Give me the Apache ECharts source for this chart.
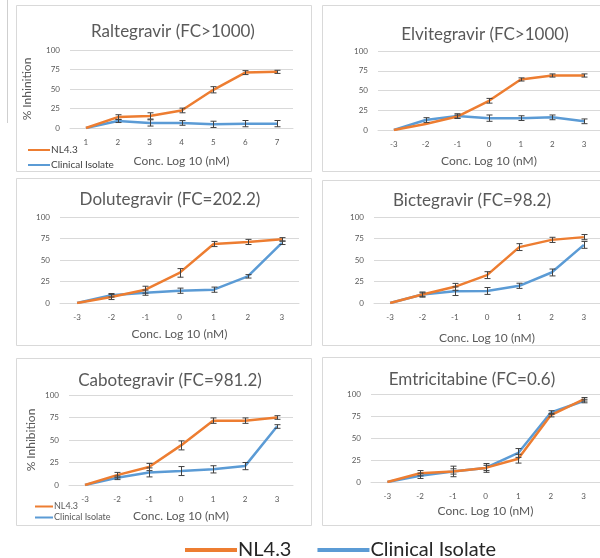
<!DOCTYPE html>
<html>
<head>
<meta charset="utf-8">
<script src="https://cdn.jsdelivr.net/npm/echarts@6/dist/echarts.min.js"></script>
<style>
  html, body { margin: 0; padding: 0; background: #fff; }
  #main { width: 600px; height: 558px; }
</style>
</head>
<body>
<div id="main"></div>
<script>
var xRalt = ['1', '2', '3', '4', '5', '6', '7'];
var xLog = ['-3', '-2', '-1', '0', '1', '2', '3'];

// % inhibition, NL4.3 and clinical isolate, with error (+/-)
var raltNL = [0, 14, 15.5, 22.5, 49, 71, 72];
var raltNLErr = [0, 3, 4, 3, 4, 2.5, 2];
var raltCI = [0, 9, 6.5, 6.5, 4.7, 5.6, 5.6];
var raltCIErr = [0, 2, 4, 3, 4, 4, 4];

var elviNL = [0, 7.6, 17, 37, 64, 69, 69];
var elviNLErr = [0, 0, 2, 3, 2, 2, 2];
var elviCI = [0, 12.6, 17.6, 15, 15, 16, 11];
var elviCIErr = [0, 3, 3, 4, 3, 3, 3];

var doluNL = [0, 7, 15.5, 35, 68.6, 71, 74];
var doluNLErr = [0, 3, 4, 5, 3, 3, 2];
var doluCI = [0, 9, 12, 14.3, 15.5, 31, 70];
var doluCIErr = [0, 2, 3, 3, 3, 2, 2];

var bictNL = [0, 9.8, 18.8, 32.4, 65, 73.4, 76.6];
var bictNLErr = [0, 3, 4, 4, 4, 3, 3];
var bictCI = [0, 9.8, 13.7, 14, 20, 35.5, 67.6];
var bictCIErr = [0, 2, 5, 4, 3, 4, 4];

var caboNL = [0, 11, 20, 44, 71.5, 71.5, 75];
var caboNLErr = [0, 3, 4, 5, 3, 3, 2];
var caboCI = [0, 8, 14, 15.5, 17.4, 21, 65];
var caboCIErr = [0, 2, 5, 5, 4, 4, 2];

var emtrNL = [0, 10, 12, 16, 26.5, 76, 94];
var emtrNLErr = [0, 3, 6, 5, 5, 2, 2];
var emtrCI = [0, 7, 12, 16, 33, 79, 92];
var emtrCIErr = [0, 3, 3, 3, 5, 2, 2];

var yTicks = [0, 25, 50, 75, 100];

var orange = '#ED7D31';
var blue = '#5B9BD5';
var txtGrey = '#595959';
var lineGrey = '#d9d9d9';

var panels = [
    { title: 'Raltegravir (FC>1000)', cats: xRalt, nl: raltNL, nlErr: raltNLErr, ci: raltCI, ciErr: raltCIErr,
      grid: { left: 70, top: 50, width: 223, height: 78 }, box: [16, 5, 295, 166], tpos: [168, 29], nameGap: 27, yName: '% Inhinition', yNameGap: 37 },
    { title: 'Elvitegravir (FC>1000)', cats: xLog, nl: elviNL, nlErr: elviNLErr, ci: elviCI, ciErr: elviCIErr,
      grid: { left: 378, top: 51, width: 225, height: 79 }, box: [322, 5, 290, 166], tpos: [480, 32], nameGap: 25 },
    { title: 'Dolutegravir (FC=202.2)', cats: xLog, nl: doluNL, nlErr: doluNLErr, ci: doluCI, ciErr: doluCIErr,
      grid: { left: 60, top: 217, width: 239, height: 86 }, box: [16, 178, 295, 167], tpos: [165, 197], nameGap: 25 },
    { title: 'Bictegravir (FC=98.2)', cats: xLog, nl: bictNL, nlErr: bictNLErr, ci: bictCI, ciErr: bictCIErr,
      grid: { left: 374, top: 217, width: 230, height: 86 }, box: [322, 180, 290, 165], tpos: [467, 198], nameGap: 29 },
    { title: 'Cabotegravir (FC=981.2)', cats: xLog, nl: caboNL, nlErr: caboNLErr, ci: caboCI, ciErr: caboCIErr,
      grid: { left: 69, top: 395, width: 224, height: 90 }, box: [16, 358, 295, 167], tpos: [165, 378], nameGap: 25, yName: '% Inhibition', yNameGap: 32 },
    { title: 'Emtricitabine (FC=0.6)', cats: xLog, nl: emtrNL, nlErr: emtrNLErr, ci: emtrCI, ciErr: emtrCIErr,
      grid: { left: 371, top: 394, width: 232, height: 88 }, box: [322, 357, 290, 168], tpos: [467, 377], nameGap: 23 }
];

function errBar(params, api) {
    var e = api.value(2);
    if (!e) return null;
    var lo = api.coord([api.value(0), api.value(1) - e]);
    var hi = api.coord([api.value(0), api.value(1) + e]);
    var x = Math.round(lo[0]) + 0.5;
    var style = { stroke: '#404040', lineWidth: 1 };
    return {
        type: 'group',
        children: [
            { type: 'line', shape: { x1: x, y1: lo[1], x2: x, y2: hi[1] }, style: style },
            { type: 'line', shape: { x1: x - 3, y1: lo[1], x2: x + 3, y2: lo[1] }, style: style },
            { type: 'line', shape: { x1: x - 3, y1: hi[1], x2: x + 3, y2: hi[1] }, style: style }
        ]
    };
}

function errData(vals, errs) {
    return vals.map(function (v, i) { return [i, v, errs[i]]; });
}

var grids = [], xAxes = [], yAxes = [], series = [], titles = [];
var graphics = [
    { type: 'line', shape: { x1: 7.5, y1: 0, x2: 7.5, y2: 123 }, style: { stroke: '#cfcfcf', lineWidth: 1 }, z: -1 }
];

panels.forEach(function (p, i) {
    graphics.push({
        type: 'rect', z: -10,
        shape: { x: p.box[0] + 0.5, y: p.box[1] + 0.5, width: p.box[2], height: p.box[3] },
        style: { fill: '#fff', stroke: lineGrey, lineWidth: 1 }
    });
    titles.push({
        text: p.title,
        left: p.tpos[0],
        top: p.tpos[1] - 11,
        textAlign: 'center',
        textStyle: { fontFamily: 'Lato', fontSize: 17, fontWeight: 'normal', color: txtGrey }
    });
    grids.push(p.grid);
    xAxes.push({
        type: 'category',
        gridIndex: i,
        data: p.cats,
        boundaryGap: true,
        name: 'Conc. Log 10 (nM)',
        nameLocation: 'middle',
        nameGap: p.nameGap,
        nameTextStyle: { fontFamily: 'Lato', fontSize: 12, color: txtGrey },
        axisLine: { lineStyle: { color: lineGrey } },
        axisTick: { show: false },
        axisLabel: { fontFamily: 'Lato', fontSize: 8, color: txtGrey, margin: 10, interval: 0 }
    });
    yAxes.push({
        type: 'value',
        gridIndex: i,
        min: 0,
        max: 100,
        interval: 25,
        name: p.yName || '',
        nameLocation: 'middle',
        nameRotate: 90,
        nameGap: p.yNameGap || 30,
        nameTextStyle: { fontFamily: 'Lato', fontSize: 12, color: txtGrey },
        axisLine: { show: false },
        axisTick: { show: false },
        axisLabel: { fontFamily: 'Lato', fontSize: 8, color: txtGrey, margin: 10 },
        splitLine: { lineStyle: { color: lineGrey } }
    });
    series.push({
        name: 'Clinical Isolate', type: 'line', xAxisIndex: i, yAxisIndex: i,
        data: p.ci, symbol: 'none', lineStyle: { color: blue, width: 2.5 }, itemStyle: { color: blue }
    });
    series.push({
        name: 'NL4.3', type: 'line', xAxisIndex: i, yAxisIndex: i,
        data: p.nl, symbol: 'none', lineStyle: { color: orange, width: 2.5 }, itemStyle: { color: orange }
    });
    series.push({
        name: 'err-ci-' + i, type: 'custom', xAxisIndex: i, yAxisIndex: i,
        renderItem: errBar, data: errData(p.ci, p.ciErr), z: 5, silent: true
    });
    series.push({
        name: 'err-nl-' + i, type: 'custom', xAxisIndex: i, yAxisIndex: i,
        renderItem: errBar, data: errData(p.nl, p.nlErr), z: 5, silent: true
    });
});

var chart = echarts.init(document.getElementById('main'), null, { renderer: 'canvas' });

chart.setOption({
    animation: false,
    backgroundColor: '#fff',
    title: titles,
    graphic: graphics,
    legend: [
        {
            data: ['NL4.3', 'Clinical Isolate'], orient: 'vertical', left: 23, top: 140,
            icon: 'rect', itemWidth: 22, itemHeight: 2, itemGap: 5, selectedMode: false,
            textStyle: { fontFamily: 'Lato', fontSize: 10, color: '#404040', padding: [0, 0, 0, -4] }
        },
        {
            data: ['NL4.3', 'Clinical Isolate'], orient: 'vertical', left: 30, top: 497,
            icon: 'rect', itemWidth: 18, itemHeight: 2, itemGap: 2, selectedMode: false,
            textStyle: { fontFamily: 'Lato', fontSize: 9, color: txtGrey, padding: [0, 0, 0, -4] }
        },
        {
            data: ['NL4.3', 'Clinical Isolate'], orient: 'horizontal', left: 180, top: 535,
            icon: 'rect', itemWidth: 52, itemHeight: 4, itemGap: 26, selectedMode: false,
            textStyle: { fontFamily: 'Lato', fontSize: 20, color: '#262626', padding: [0, 0, 0, -4] }
        }
    ],
    grid: grids,
    xAxis: xAxes,
    yAxis: yAxes,
    series: series
});
</script>
</body>
</html>
